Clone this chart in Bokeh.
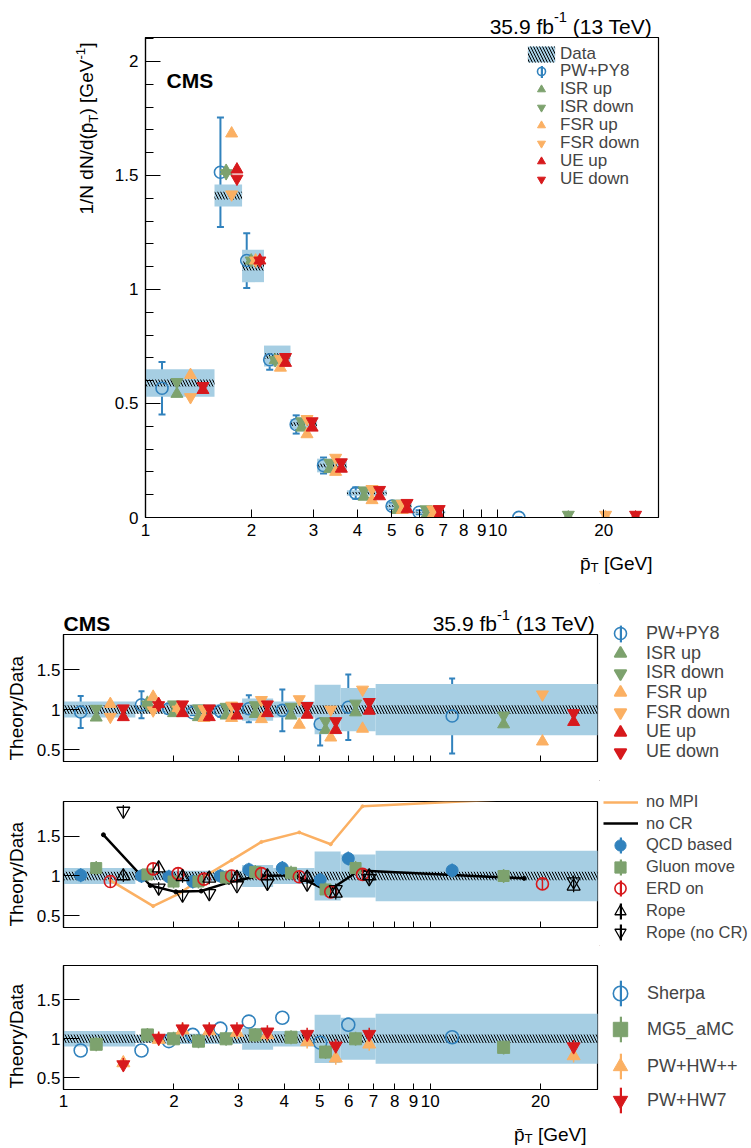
import math
import numpy as np
from bokeh.plotting import figure
from bokeh.layouts import column, row
from bokeh.models import (Whisker, TeeHead, Label, Legend, LegendItem, FixedTicker,
                          SingleIntervalTicker, Range1d, CustomJSTickFormatter, ColumnDataSource)
from bokeh.embed import file_html
from bokeh.resources import INLINE
from bokeh.core.properties import value

FONT = "Liberation Sans"
BLUE = "#3182bd"
GREEN = "#7da26e"
ORANGE = "#fbb063"
RED = "#d7191c"
BAND = "#a6cee3"

# ---------------- data ----------------
bin_edges = [1.0, 1.57, 1.88, 2.17, 2.58, 3.07, 3.73, 4.84, 5.7, 7.1, 29.0]
x_ticks = [1, 2, 3, 4, 5, 6, 7, 8, 9, 10, 20]
x_max = 28.6

# top panel (1/N dN/dpT)
data_val = [0.59, 1.412, 1.103, 0.708, 0.41, 0.228, 0.107, 0.05, 0.023, 0.0005]
data_tot = [0.06, 0.048, 0.071, 0.046, 0.022, 0.03, 0.012, 0.012, 0.006, 0.0003]
data_stat = [0.015, 0.017, 0.02, 0.012, 0.008, 0.008, 0.005, 0.004, 0.002, 0.0002]
pwpy8 = [0.567, 1.514, 1.127, 0.692, 0.408, 0.228, 0.107, 0.05, 0.023, 0.0005]
pwpy8_err = [0.115, 0.24, 0.12, 0.044, 0.04, 0.035, 0.025, 0.013, 0.009, 0.0005]
isr_up = [0.542, 1.52, 1.127, 0.69, 0.394, 0.212, 0.091, 0.033, 0.008, 0.0]
isr_down = [0.594, 1.51, 1.127, 0.69, 0.422, 0.240, 0.119, 0.061, 0.036, 0.012]
fsr_up = [0.625, 1.684, 1.127, 0.657, 0.365, 0.20, 0.076, 0.033, 0.012, 0.0]
fsr_down = [0.528, 1.417, 1.127, 0.695, 0.432, 0.262, 0.125, 0.06, 0.035, 0.012]
ue_up = [0.559, 1.526, 1.127, 0.678, 0.394, 0.214, 0.093, 0.036, 0.009, 0.0]
ue_down = [0.577, 1.486, 1.127, 0.704, 0.422, 0.242, 0.121, 0.064, 0.037, 0.012]

# ratio panels: data uncertainty bands
ratio_tot = [0.10, 0.05, 0.065, 0.065, 0.065, 0.14, 0.10, 0.31, 0.27, 0.32]
ratio_stat = [0.055, 0.055, 0.055, 0.055, 0.055, 0.055, 0.055, 0.055, 0.055, 0.055]

# ratio panel 1
r_pwpy8 = [0.97, 1.06, 1.01, 0.96, 0.98, 1.01, 0.99, 0.82, 1.03, 0.92]
r_pwpy8_err = [0.2, 0.17, 0.06, 0.03, 0.07, 0.17, 0.26, 0.27, 0.41, 0.47]
r_isr_up = [0.90, 1.085, 0.955, 0.905, 0.925, 0.945, 0.925, 0.745, 0.965, 0.815]
r_isr_down = [1.01, 1.065, 1.065, 1.015, 1.035, 1.055, 1.035, 0.855, 1.075, 0.925]
r_fsr_up = [1.07, 1.16, 1.02, 0.895, 0.895, 0.88, 0.81, 0.65, 0.76, 0.60]
r_fsr_down = [0.91, 0.99, 1.0, 1.005, 1.05, 1.12, 1.13, 1.0, 1.25, 1.19]
r_ue_up = [0.905, 1.07, 0.955, 0.905, 0.925, 0.955, 0.935, 0.745, 0.985, 0.845]
r_ue_down = [1.015, 1.055, 1.065, 1.015, 1.035, 1.065, 1.045, 0.855, 1.095, 0.955]

# ratio panel 2
r_no_mpi = [0.945, 0.62, 0.77, 0.99, 1.2, 1.43, 1.55, 1.40, 1.88, 1.99]
r_no_cr = [1.52, 0.88, 0.80, 0.81, 0.92, 1.0, 1.01, 0.81, 1.07, 0.97]
r_qcd = [1.01, 1.0, 0.99, 0.93, 1.0, 1.08, 1.1, 0.95, 1.22, 1.07]
r_gluon = [1.1, 1.02, 0.93, 0.93, 0.98, 1.05, 1.04, 0.83, 1.1, 1.0]
r_erd = [0.93, 1.09, 1.03, 0.96, 1.0, 1.03, 0.99, 0.8, 1.02, 0.9]
r_rope = [1.0, 1.1, 0.99, 0.97, 0.98, 1.0, 0.98, 0.78, 1.0, 0.87]
r_rope_nocr = [1.82, 0.85, 0.76, 0.78, 0.88, 0.91, 0.9, 0.83, 0.97, 0.93]

# ratio panel 3
r_sherpa = [0.85, 0.85, 0.97, 1.05, 1.13, 1.22, 1.27, 0.95, 1.18, 1.02]
r_sherpa_err = [0.0, 0.0, 0.0, 0.0, 0.0, 0.0, 0.0, 0.07, 0.08, 0.08]
r_mg5 = [0.93, 1.05, 1.0, 0.97, 1.0, 1.05, 1.02, 0.83, 1.0, 0.89]
r_hwpp = [0.69, 0.99, 1.11, 1.1, 1.08, 1.05, 0.96, 0.75, 0.93, 0.78]
r_hw7 = [0.67, 1.01, 1.13, 1.13, 1.13, 1.09, 1.06, 0.91, 1.06, 0.9]

# ---------------- helpers ----------------
lo = np.array(bin_edges[:-1])
hi = np.array(bin_edges[1:])


def xpos(f):
    return lo + f * (hi - lo)


AW = {" ": 278, "(": 333, ")": 333, "-": 333, ".": 278, "/": 278, "[": 278, "]": 278,
      "C": 722, "D": 722, "G": 778, "M": 833, "N": 722, "S": 667, "T": 611, "V": 667,
      "a": 556, "b": 556, "d": 556, "e": 556, "f": 278, "h": 556, "o": 556, "p": 556,
      "r": 333, "t": 278, "y": 500, "\u0304": 0}
MAC = "\u0304"


def text_w(s, size):
    return sum(AW.get(c, 556) for c in s) * size / 1000.0


def add_text(fig, geo, pieces, x, y, size, rotated=False, bold=False, anchor="start"):
    """x, y are page coordinates of the baseline start (or end)."""
    left, top, w, h = geo
    total = sum(text_w(t, size * s) for t, s, d in pieces)
    if anchor == "end":
        if rotated:
            y = y + total
        else:
            x = x - total
    sx0 = x - left
    sy0 = (top + h) - y
    pos = 0.0
    for t, s, d in pieces:
        fs = size * s
        lead = len(t) - len(t.lstrip(" "))
        trail = len(t) - len(t.rstrip(" "))
        core = t.strip(" ")
        pos += lead * AW[" "] * fs / 1000.0
        if rotated:
            # anchor on the middle of the em box (0.35 em above the baseline)
            sx, sy, ang, base = sx0 - d * size - 0.35 * fs, sy0 + pos, math.pi / 2, "middle"
        else:
            sx, sy, ang, base = sx0 + pos, sy0 + d * size, 0.0, "alphabetic"
        fig.add_layout(Label(x=sx, y=sy, x_units="screen", y_units="screen", text=core, angle=ang,
                             text_font=FONT, text_font_size=f"{fs:.1f}px",
                             text_font_style="bold" if bold else "normal",
                             text_align="left", text_baseline=base, text_color="black"))
        pos += text_w(core, fs) + trail * AW[" "] * fs / 1000.0


def add_legend(fig, geo, renderers, label, cx, cy, W, H, size, standoff):
    left, top, w, h = geo
    W = int(round(W))
    H = int(round(H))
    vx = cx - W / 2.0 - left
    vy = (top + h) - (cy + H / 2.0)
    fig.add_layout(Legend(items=[LegendItem(label=value(label), renderers=renderers)], location=(vx, vy),
                          glyph_width=W, glyph_height=H, label_height=H, label_width=10,
                          label_standoff=int(standoff), padding=0, margin=0, spacing=0,
                          border_line_color=None, background_fill_alpha=0,
                          label_text_font=FONT, label_text_font_size=f"{size}px",
                          label_text_baseline="middle"))


def add_bar_key(fig, geo, dummy, color, cx, cy, L):
    """narrow vertical error-bar key drawn as a legend glyph"""
    G = L / 0.8
    r = fig.vbar(x=[dummy[0]], width=dummy[2], top=[dummy[1]], bottom=[dummy[1] - 1],
                 fill_color=color, line_color=None)
    add_legend(fig, geo, [r], "", cx, cy, 3, G, 1, 0)


def text_fig(left, top, w, h):
    p = figure(frame_width=w, frame_height=h, x_range=Range1d(0, w), y_range=Range1d(h, 0),
               x_axis_location=None, y_axis_location=None, frame_align=False,
               min_border_left=0, min_border_right=0, min_border_top=0, min_border_bottom=0,
               output_backend="svg", toolbar_location=None, outline_line_color=None,
               background_fill_color="white", border_fill_color="white")
    p.grid.visible = False
    return p, (left, top, w, h)


TD = (-500, -500, 1)


def make_fig(fw, fh, bl, br, bt, bb, y_range):
    p = figure(frame_width=fw, frame_height=fh, x_axis_type="log", frame_align=False,
               x_range=Range1d(1, x_max), y_range=Range1d(*y_range),
               min_border_left=bl, min_border_right=br, min_border_top=bt, min_border_bottom=bb,
               output_backend="svg", toolbar_location=None,
               background_fill_color="white", border_fill_color="white")
    p.xgrid.visible = False
    p.ygrid.visible = False
    p.outline_line_color = "black"
    p.outline_line_width = 1.2
    for ax in (p.xaxis[0], p.yaxis[0]):
        ax.axis_line_color = "black"
        ax.axis_line_width = 1.2
        ax.major_tick_line_color = "black"
        ax.minor_tick_line_color = "black"
        ax.major_tick_out = 0
        ax.minor_tick_out = 0
        ax.major_label_text_font = FONT
        ax.major_label_text_font_size = "17px"
        ax.major_label_text_color = "black"
    p.xaxis.ticker = FixedTicker(ticks=x_ticks, minor_ticks=[])
    p.xaxis.formatter = CustomJSTickFormatter(code="return tick.toFixed(0)")
    p.yaxis.formatter = CustomJSTickFormatter(code="return String(Math.round(tick*10)/10)")
    return p


def vdash(p, x, y, color, size, width=1.5):
    return p.scatter(x=x, y=y, marker="dash", angle=math.pi / 2, size=size,
                     line_color=color, line_width=width)


def whisk(p, x, y, err, color, head):
    y = np.array(y)
    err = np.array(err)
    p.add_layout(Whisker(source=ColumnDataSource(dict(x=x, lo=y - err, hi=y + err)), base="x",
                         lower="lo", upper="hi", dimension="height", line_color=color, line_width=2,
                         upper_head=TeeHead(size=head, line_color=color, line_width=2),
                         lower_head=TeeHead(size=head, line_color=color, line_width=2)))


x1, x2, x3, x4 = xpos(0.2), xpos(0.4), xpos(0.6), xpos(0.8)
xm = xpos(0.5)

# ================= TOP PANEL =================
top = make_fig(513, 480, 40, 85, 0, 30, (0, 2.105))
GT = (145, 37, 513, 480)
top.xaxis.major_tick_in = 8
top.xaxis.major_label_standoff = 6
top.yaxis.ticker = SingleIntervalTicker(interval=0.5, num_minor_ticks=5)
top.yaxis.major_tick_in = 15
top.yaxis.minor_tick_in = 8
top.yaxis.major_label_standoff = 7

dv = np.array(data_val)
r_band = top.quad(left=lo, right=hi, bottom=dv - np.array(data_tot), top=dv + np.array(data_tot),
                  fill_color=BAND, line_color=None)
r_hatch = top.quad(left=lo, right=hi, bottom=dv - np.array(data_stat), top=dv + np.array(data_stat),
                   fill_color=None, line_color=None, hatch_pattern="\\", hatch_color="black",
                   hatch_scale=6, hatch_weight=1)
whisk(top, x1, pwpy8, pwpy8_err, BLUE, 7)
t_pw = top.scatter(x=x1, y=pwpy8, marker="circle", size=12, fill_color=None, line_color=BLUE, line_width=1.6)
t_isru = top.scatter(x=x2, y=isr_up, marker="triangle", size=12, fill_color=GREEN, line_color=GREEN)
t_isrd = top.scatter(x=x2, y=isr_down, marker="inverted_triangle", size=12, fill_color=GREEN, line_color=GREEN)
t_fsru = top.scatter(x=x3, y=fsr_up, marker="triangle", size=12, fill_color=ORANGE, line_color=ORANGE)
t_fsrd = top.scatter(x=x3, y=fsr_down, marker="inverted_triangle", size=12, fill_color=ORANGE, line_color=ORANGE)
t_ueu = top.scatter(x=x4, y=ue_up, marker="triangle", size=12, fill_color=RED, line_color=RED)
t_ued = top.scatter(x=x4, y=ue_down, marker="inverted_triangle", size=12, fill_color=RED, line_color=RED)

top_items = [([r_band, r_hatch], "Data"), ([t_pw], "PW+PY8"), ([t_isru], "ISR up"),
             ([t_isrd], "ISR down"), ([t_fsru], "FSR up"), ([t_fsrd], "FSR down"),
             ([t_ueu], "UE up"), ([t_ued], "UE down")]
for i, (rs, lab) in enumerate(top_items):
    add_legend(top, GT, rs, lab, 541, 53.5 + 17.9 * i, 34, 20, 17, 2)
add_bar_key(top, GT, (1.5, -5.0, 0.1), BLUE, 541, 53.5 + 17.9, 12)
add_text(top, GT, [("CMS", 1, 0)], 166, 80, 21, bold=True)

T_head, GTH = text_fig(0, 0, 743, 37)
add_text(T_head, GTH, [("35.9 fb", 1, 0), ("-1", 0.7, 0.42), (" (13 TeV)", 1, 0)], 654, 25.5, 21, anchor="end")
T_ylab, GTY = text_fig(0, 37, 105, 510)
add_text(T_ylab, GTY, [("1/N dN/d(p" + MAC, 1, 0), ("T", 0.7, -0.22), (") [GeV", 1, 0),
                       ("-1", 0.7, 0.42), ("]", 1, 0)], 93, 42, 19, rotated=True, anchor="end")
T_foot, GTF = text_fig(0, 547, 743, 36)
add_text(T_foot, GTF, [("p" + MAC, 1, 0), ("T", 0.7, -0.22), (" [GeV]", 1, 0)], 652, 563, 19, anchor="end")

top_block = column(T_head, row(T_ylab, top), T_foot)


# ================= RATIO PANELS =================
def ratio_fig(fh, bt, bb, show_labels):
    p = make_fig(534, fh, 30, 2, bt, bb, (0.35, 1.94))
    p.xaxis.major_tick_in = 6
    p.yaxis.ticker = FixedTicker(ticks=[0.5, 1.0, 1.5], minor_ticks=[])
    p.yaxis.major_tick_in = 16
    p.yaxis.major_label_standoff = 3
    if show_labels:
        p.xaxis.major_label_standoff = 5
    else:
        p.xaxis.formatter = CustomJSTickFormatter(code="return ''")
        p.xaxis.major_label_text_font_size = "10px"
        p.xaxis.major_label_standoff = 0
    p.quad(left=lo, right=hi, bottom=1 - np.array(ratio_tot), top=1 + np.array(ratio_tot),
           fill_color=BAND, line_color=None)
    p.quad(left=lo, right=hi, bottom=1 - np.array(ratio_stat), top=1 + np.array(ratio_stat),
           fill_color=None, line_color=None, hatch_pattern="\\", hatch_color="black",
           hatch_scale=6, hatch_weight=1)
    return p


# ---- ratio 1 ----
r1 = ratio_fig(127, 0, 19, False)
whisk(r1, x1, r_pwpy8, r_pwpy8_err, BLUE, 6)
r1.scatter(x=x1, y=r_pwpy8, marker="circle", size=12, fill_color=None, line_color=BLUE, line_width=1.6)
r1.scatter(x=x2, y=r_isr_up, marker="triangle", size=12, fill_color=GREEN, line_color=GREEN)
r1.scatter(x=x2, y=r_isr_down, marker="inverted_triangle", size=12, fill_color=GREEN, line_color=GREEN)
r1.scatter(x=x3, y=r_fsr_up, marker="triangle", size=12, fill_color=ORANGE, line_color=ORANGE)
r1.scatter(x=x3, y=r_fsr_down, marker="inverted_triangle", size=12, fill_color=ORANGE, line_color=ORANGE)
r1.scatter(x=x4, y=r_ue_up, marker="triangle", size=12, fill_color=RED, line_color=RED)
r1.scatter(x=x4, y=r_ue_down, marker="inverted_triangle", size=12, fill_color=RED, line_color=RED)

R1_head, G1H = text_fig(0, 583, 599, 51)
add_text(R1_head, G1H, [("CMS", 1, 0)], 63, 623, 21, bold=True)
add_text(R1_head, G1H, [("35.9 fb", 1, 0), ("-1", 0.7, 0.42), (" (13 TeV)", 1, 0)], 597, 623, 21, anchor="end")
R1_left, G1L = text_fig(0, 634, 33, 146)
add_text(R1_left, G1L, [("Theory/Data", 1, 0)], 23, 760, 19, rotated=True)
R1_right, G1R = text_fig(599, 583, 150, 197)
leg1 = [("circle", None, BLUE, "PW+PY8"), ("triangle", GREEN, GREEN, "ISR up"),
        ("inverted_triangle", GREEN, GREEN, "ISR down"), ("triangle", ORANGE, ORANGE, "FSR up"),
        ("inverted_triangle", ORANGE, ORANGE, "FSR down"), ("triangle", RED, RED, "UE up"),
        ("inverted_triangle", RED, RED, "UE down")]
rows1 = [633, 653, 672.5, 692, 712, 731.5, 751.5]
for (mk, fc, lc, lab), cy in zip(leg1, rows1):
    d = R1_right.scatter(x=[TD[0]], y=[TD[1]], marker=mk, size=12, fill_color=fc, line_color=lc, line_width=1.6)
    add_legend(R1_right, G1R, [d], lab, 620, cy, 30, 30, 18, 11)
add_bar_key(R1_right, G1R, TD, BLUE, 620, rows1[0], 17)

r1_block = row(column(R1_head, row(R1_left, r1)), R1_right)

# ---- ratio 2 ----
r2 = ratio_fig(126, 21, 18, False)
r2.line(x=x3, y=r_no_mpi, line_color=ORANGE, line_width=2.5)
r2.scatter(x=x3, y=r_no_mpi, marker="circle", size=3, fill_color=ORANGE, line_color=ORANGE)
r2.line(x=xm, y=r_no_cr, line_color="black", line_width=2.5)
r2.scatter(x=xm, y=r_no_cr, marker="circle", size=4, fill_color="black", line_color="black")
vdash(r2, x1, r_qcd, BLUE, 14)
r2.scatter(x=x1, y=r_qcd, marker="circle", size=12, fill_color=BLUE, line_color=BLUE)
vdash(r2, x2, r_gluon, GREEN, 14)
r2.scatter(x=x2, y=r_gluon, marker="square", size=11, fill_color=GREEN, line_color=GREEN)
vdash(r2, x3, r_erd, RED, 12)
r2.scatter(x=x3, y=r_erd, marker="circle", size=12, fill_color=None, line_color=RED, line_width=1.6)
vdash(r2, x4, r_rope, "black", 12, 1.2)
r2.scatter(x=x4, y=r_rope, marker="triangle", size=13, fill_color=None, line_color="black", line_width=1.3)
vdash(r2, x4, r_rope_nocr, "black", 12, 1.2)
r2.scatter(x=x4, y=r_rope_nocr, marker="inverted_triangle", size=13, fill_color=None,
           line_color="black", line_width=1.3)

R2_left, G2L = text_fig(0, 780, 33, 165)
add_text(R2_left, G2L, [("Theory/Data", 1, 0)], 23, 926, 19, rotated=True)
R2_right, G2R = text_fig(599, 780, 150, 165)
rows2 = [801.7, 823, 844.5, 866.5, 888, 910.5, 932]
l_mpi = R2_right.line(x=[TD[0], TD[0] - 1], y=[TD[1], TD[1]], line_color=ORANGE, line_width=2.5)
l_cr = R2_right.line(x=[TD[0], TD[0] - 1], y=[TD[1], TD[1]], line_color="black", line_width=2.5)
add_legend(R2_right, G2R, [l_mpi], "no MPI", 620.5, rows2[0], 35, 24, 16.5, 8)
add_legend(R2_right, G2R, [l_cr], "no CR", 620.5, rows2[1], 35, 24, 16.5, 8)
leg2 = [("circle", BLUE, BLUE, "QCD based", 1.0), ("square", GREEN, GREEN, "Gluon move", 1.0),
        ("circle", None, RED, "ERD on", 1.6), ("triangle", None, "black", "Rope", 1.3),
        ("inverted_triangle", None, "black", "Rope (no CR)", 1.3)]
for (mk, fc, lc, lab, lw), cy in zip(leg2, rows2[2:]):
    d = R2_right.scatter(x=[TD[0]], y=[TD[1]], marker=mk, size=12, fill_color=fc, line_color=lc, line_width=lw)
    add_legend(R2_right, G2R, [d], lab, 620, cy, 28, 28, 16.5, 12)
    add_bar_key(R2_right, G2R, TD, lc, 620, cy, 16)

r2_block = row(R2_left, r2, R2_right)

# ---- ratio 3 ----
r3 = ratio_fig(124, 20, 26, True)
rs_ = np.array(r_sherpa)
rse = np.array(r_sherpa_err)
mask = rse > 0
whisk(r3, x1[mask], rs_[mask], rse[mask], BLUE, 4)
r3.scatter(x=x1, y=rs_, marker="circle", size=13, fill_color=None, line_color=BLUE, line_width=1.6)
vdash(r3, x2, r_mg5, GREEN, 14)
r3.scatter(x=x2, y=r_mg5, marker="square", size=12, fill_color=GREEN, line_color=GREEN)
vdash(r3, x4, r_hwpp, ORANGE, 13)
r3.scatter(x=x4, y=r_hwpp, marker="triangle", size=13, fill_color=ORANGE, line_color=ORANGE)
vdash(r3, x4, r_hw7, RED, 13)
r3.scatter(x=x4, y=r_hw7, marker="inverted_triangle", size=13, fill_color=RED, line_color=RED)

R3_left, G3L = text_fig(0, 945, 33, 170)
add_text(R3_left, G3L, [("Theory/Data", 1, 0)], 23, 1088, 19, rotated=True)
R3_foot, G3F = text_fig(0, 1115, 599, 31)
add_text(R3_foot, G3F, [("p" + MAC, 1, 0), ("T", 0.7, -0.22), (" [GeV]", 1, 0)], 586, 1134, 19, anchor="end")
R3_right, G3R = text_fig(599, 945, 150, 201)
leg3 = [("circle", None, BLUE, "Sherpa", 1.6), ("square", GREEN, GREEN, "MG5_aMC", 1.0),
        ("triangle", ORANGE, ORANGE, "PW+HW++", 1.0), ("inverted_triangle", RED, RED, "PW+HW7", 1.0)]
rows3 = [993, 1029, 1066, 1100]
for (mk, fc, lc, lab, lw), cy in zip(leg3, rows3):
    d = R3_right.scatter(x=[TD[0]], y=[TD[1]], marker=mk, size=14, fill_color=fc, line_color=lc, line_width=lw)
    add_legend(R3_right, G3R, [d], lab, 620, cy, 36, 36, 18, 9)
    add_bar_key(R3_right, G3R, TD, lc, 620, cy, 26)

r3_block = row(column(row(R3_left, r3), R3_foot), R3_right)

layout = column(top_block, r1_block, r2_block, r3_block)
open("out.html", "w").write(file_html(layout, INLINE))
